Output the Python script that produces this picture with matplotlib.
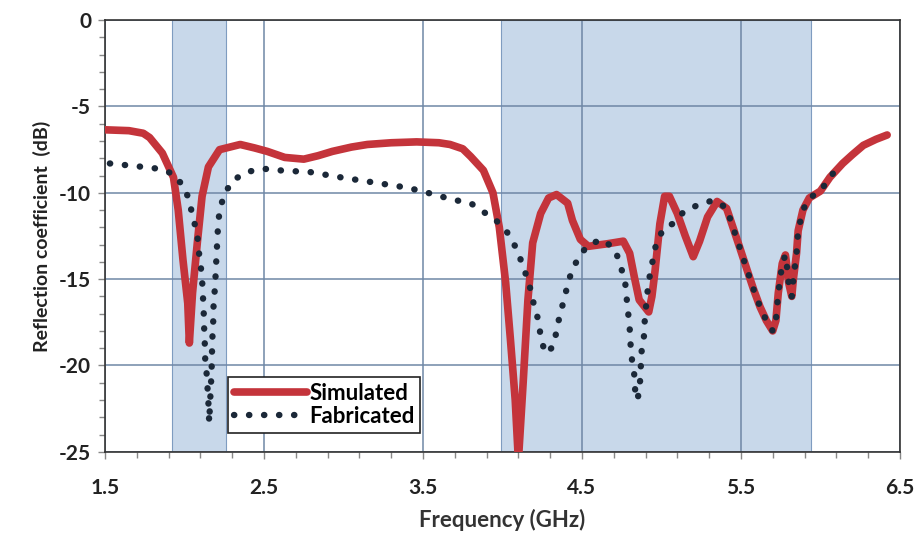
import matplotlib.pyplot as plt
from matplotlib.ticker import MultipleLocator, FixedLocator

# Data
sim_freq = [1.50, 1.65, 1.74, 1.78, 1.86, 1.93, 1.96, 1.99, 2.02, 2.03, 2.05, 2.08,
            2.11, 2.15, 2.22, 2.35, 2.44, 2.52, 2.63, 2.75, 2.84, 2.93, 3.05, 3.15,
            3.30, 3.46, 3.60, 3.67, 3.75, 3.80, 3.88, 3.94, 3.98, 4.02, 4.05, 4.08,
            4.10, 4.13, 4.16, 4.19, 4.24, 4.29, 4.34, 4.41, 4.44, 4.49, 4.54, 4.66,
            4.76, 4.80, 4.83, 4.86, 4.92, 4.94, 4.96, 4.99, 5.02, 5.05, 5.10, 5.15,
            5.20, 5.24, 5.29, 5.35, 5.41, 5.45, 5.49, 5.54, 5.58, 5.62, 5.66, 5.70,
            5.72, 5.735, 5.76, 5.78, 5.79, 5.80, 5.82, 5.83, 5.85, 5.86, 5.89, 5.93,
            6.00, 6.06, 6.14, 6.20, 6.27, 6.35, 6.42]
sim_db = [-6.35, -6.4, -6.55, -6.8, -7.7, -9.1, -11.0, -13.9, -16.4, -18.7, -15.8, -12.9,
          -10.2, -8.5, -7.5, -7.2, -7.4, -7.6, -7.95, -8.05, -7.85, -7.6, -7.35, -7.2,
          -7.1, -7.05, -7.1, -7.2, -7.45, -7.9, -8.7, -10.0, -12.0, -15.2, -18.5, -22.0,
          -25.5, -21.0, -16.2, -12.9, -11.2, -10.3, -10.1, -10.6, -11.6, -12.7, -13.1, -12.95,
          -12.8, -13.5, -14.9, -16.2, -16.9, -16.0, -14.5, -11.8, -10.2, -10.2, -11.2, -12.5,
          -13.7, -12.8, -11.4, -10.5, -10.9, -12.0, -13.1, -14.5, -15.6, -16.6, -17.4, -18.0,
          -17.4, -15.8, -14.1, -13.6, -14.3, -15.2, -16.0, -15.0, -13.5, -12.2, -11.0, -10.3,
          -9.9, -9.1, -8.3, -7.8, -7.25, -6.9, -6.65]

fab_freq = [1.53, 1.74, 1.83, 1.93, 1.99, 2.03, 2.05, 2.08, 2.085, 2.10, 2.11, 2.115,
            2.12, 2.123, 2.127, 2.13, 2.14, 2.145, 2.15, 2.155, 2.16, 2.165, 2.17, 2.172,
            2.175, 2.18, 2.182, 2.19, 2.195, 2.20, 2.205, 2.21, 2.22, 2.25, 2.30, 2.39,
            2.49, 2.60, 2.79, 2.98, 3.19, 3.40, 3.49, 3.69, 3.80, 3.88, 3.96, 4.03,
            4.08, 4.12, 4.15, 4.18, 4.20, 4.23, 4.24, 4.27, 4.32, 4.34, 4.36, 4.39,
            4.41, 4.44, 4.49, 4.54, 4.63, 4.71, 4.74, 4.77, 4.78, 4.79, 4.80, 4.805,
            4.815, 4.83, 4.835, 4.85, 4.865, 4.87, 4.875, 4.89, 4.895, 4.905, 4.915, 4.93,
            4.95, 4.97, 5.02, 5.07, 5.14, 5.23, 5.32, 5.35, 5.41, 5.45, 5.49, 5.54,
            5.58, 5.62, 5.66, 5.70, 5.72, 5.735, 5.76, 5.78, 5.79, 5.80, 5.82, 5.83,
            5.85, 5.86, 5.89, 5.93, 6.00, 6.06, 6.13]
fab_db = [-8.3, -8.5, -8.6, -8.9, -9.6, -10.4, -11.4, -12.3, -13.1, -14.1, -15.0, -15.9,
          -16.8, -17.8, -18.7, -19.7, -20.6, -21.4, -22.2, -23.3, -22.2, -21.3, -20.3, -19.4,
          -18.4, -17.5, -16.6, -15.6, -14.8, -13.8, -12.9, -12.0, -11.0, -10.1, -9.3, -8.8,
          -8.6, -8.7, -8.8, -9.1, -9.4, -9.7, -9.9, -10.4, -10.6, -11.1, -11.6, -12.3,
          -13.1, -14.0, -14.8, -15.7, -16.6, -17.5, -18.4, -19.3, -18.9, -18.0, -17.1, -16.1,
          -15.3, -14.4, -13.6, -13.0, -12.7, -13.3, -14.2, -15.0, -16.0, -16.9, -17.8, -18.7,
          -19.7, -20.6, -21.5, -22.0, -21.0, -20.1, -19.2, -18.3, -17.4, -16.4, -15.5, -14.6,
          -13.7, -12.8, -12.0, -11.8, -11.1, -10.7, -10.45, -10.5, -10.9, -12.0, -13.1, -14.5,
          -15.6, -16.6, -17.4, -18.0, -17.4, -15.8, -14.1, -13.6, -14.3, -15.2, -16.0, -15.0,
          -13.5, -12.2, -11.0, -10.3, -9.9, -9.1, -8.3]

bands = [(1.92, 2.26), (3.99, 5.94)]
x_ticks = [1.5, 2.5, 3.5, 4.5, 5.5, 6.5]
y_ticks = [0, -5, -10, -15, -20, -25]

plt.rcParams['font.family'] = ['Lato', 'DejaVu Sans']

fig = plt.figure(figsize=(9.22, 5.45), dpi=100)
ax = fig.add_axes([0.114, 0.171, 0.862, 0.792])

grid_col = '#6f87a6'
for lo, hi in bands:
    ax.axvspan(lo, hi, facecolor='#c8d8ea', edgecolor='#7f9cc0', lw=0.8, zorder=0)

ax.plot(sim_freq, sim_db, color='#c4343b', lw=5.5, solid_capstyle='round',
        solid_joinstyle='round', label='Simulated', zorder=3)
ax.plot(fab_freq, fab_db, color='#1b2838', lw=4.6, linestyle=(0, (0.05, 2.3)),
        dash_capstyle='round', label='Fabricated', zorder=4)

ax.set_xlim(1.5, 6.5)
ax.set_ylim(-25, 0)
ax.xaxis.set_major_locator(FixedLocator(x_ticks))
ax.yaxis.set_major_locator(FixedLocator(y_ticks))
ax.xaxis.set_minor_locator(MultipleLocator(0.2, offset=0.1))
ax.yaxis.set_minor_locator(MultipleLocator(1))
ax.set_xticklabels([f'{v:g}' for v in x_ticks], fontsize=15, fontweight='bold', color='#222222')
ax.set_yticklabels([f'{v:g}' for v in y_ticks], fontsize=15, fontweight='bold', color='#222222')
ax.tick_params(which='both', direction='out', color='#888888', width=1)
ax.tick_params(axis='x', which='major', length=5, pad=14)
ax.tick_params(axis='y', which='major', length=5, pad=5)
ax.tick_params(which='minor', length=4)

ax.grid(True, which='major', color=grid_col, lw=1.1, zorder=1)
ax.set_axisbelow(True)
for s in ax.spines.values():
    s.set_color('#333333')
    s.set_linewidth(1.2)

ax.set_xlabel('Frequency (GHz)', fontsize=16, fontweight='bold', color='#333333', labelpad=8)
ax.set_ylabel('Reflection coefficient  (dB)', fontsize=14, fontweight='bold', color='#222222',
              labelpad=6)

leg = ax.legend(loc='lower left', bbox_to_anchor=(0.155, 0.044),
                prop={'weight': 'bold', 'size': 16}, frameon=True, fancybox=False,
                handlelength=3.3, handletextpad=0.1, borderpad=0.25, labelspacing=0.1,
                borderaxespad=0)
leg.get_frame().set_edgecolor('#222222')
leg.get_frame().set_linewidth(1.2)
leg.get_frame().set_alpha(1)

fig.savefig('out.png', dpi=100)
